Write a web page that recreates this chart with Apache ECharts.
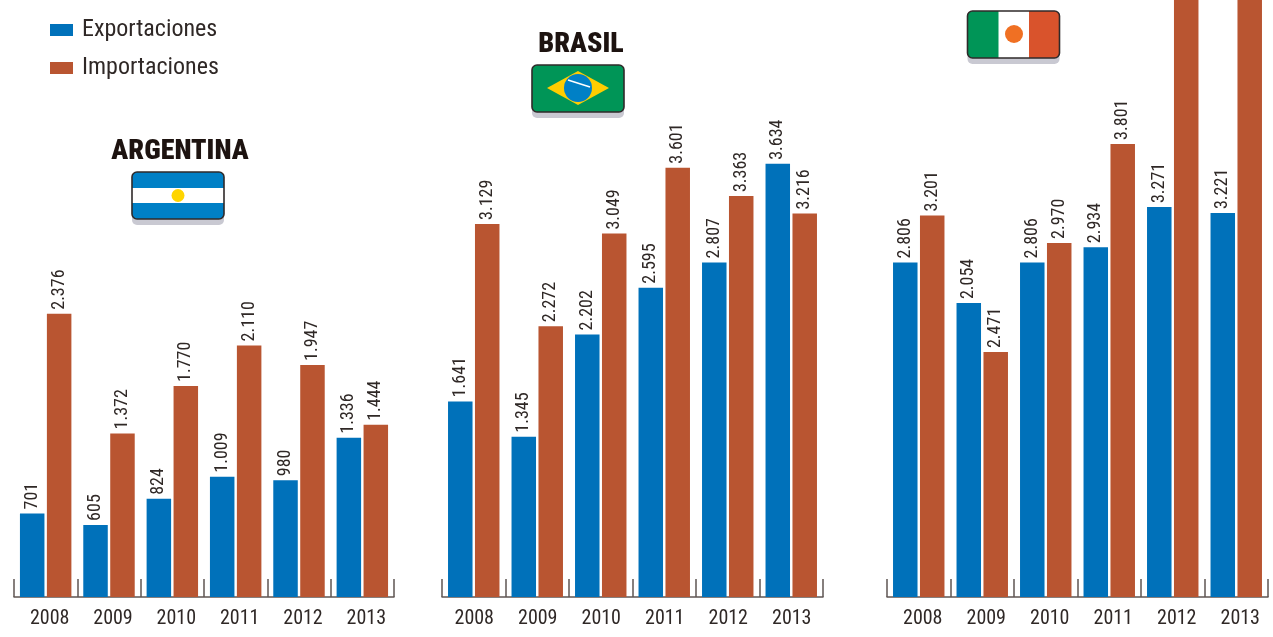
<!DOCTYPE html>
<html lang="es">
<head>
<meta charset="utf-8">
<title>Exportaciones e importaciones</title>
<script src="https://cdn.jsdelivr.net/npm/echarts@6/dist/echarts.min.js"></script>
<style>
  html, body { margin: 0; padding: 0; background: #fff; }
  #chart { width: 1273px; height: 637px; }
</style>
</head>
<body>
<div id="chart"></div>
<script>
const years = ['2008', '2009', '2010', '2011', '2012', '2013'];

const argentinaExp = [701, 605, 824, 1009, 980, 1336];
const argentinaImp = [2376, 1372, 1770, 2110, 1947, 1444];
const brasilExp = [1641, 1345, 2202, 2595, 2807, 3634];
const brasilImp = [3129, 2272, 3049, 3601, 3363, 3216];
// 2009: en el original la altura de las barras no coincide con su rotulo, se dibuja tal cual
const mexicoExp = [2806, 2466, 2806, 2934, 3271, 3221];
const mexicoExpLabels = [2806, 2054, 2806, 2934, 3271, 3221];
// las dos ultimas barras salen por arriba del recorte, valor estimado
const mexicoImp = [3201, 2055, 2970, 3801, 5300, 5450];
const mexicoImpLabels = [3201, 2471, 2970, 3801, null, null];

const yMax = 5008;
const BLUE = '#0071ba';
const RED = '#b95531';
const FONT = '"Roboto Condensed", sans-serif';
const INK = '#2f2826';

const panels = [
  { left: 14, width: 380, labelPad: 8, exp: argentinaExp, imp: argentinaImp, expLabels: argentinaExp, impLabels: argentinaImp },
  { left: 442, width: 381, labelPad: 1, exp: brasilExp, imp: brasilImp, expLabels: brasilExp, impLabels: brasilImp },
  { left: 887, width: 381, labelPad: 8, exp: mexicoExp, imp: mexicoImp, expLabels: mexicoExpLabels, impLabels: mexicoImpLabels },
];

function fmt(v) {
  if (v == null) return '';
  const s = String(v);
  return s.length > 3 ? s.slice(0, -3) + '.' + s.slice(-3) : s;
}

function barSeries(name, color, data, labels, i) {
  return {
    name,
    type: 'bar',
    xAxisIndex: i,
    yAxisIndex: i,
    data,
    barWidth: 24.5,
    barGap: '10%',
    itemStyle: { color },
    label: {
      show: true,
      position: 'top',
      rotate: 90,
      align: 'left',
      verticalAlign: 'middle',
      distance: 4,
      fontFamily: FONT,
      fontWeight: 400,
      fontSize: 18,
      color: INK,
      formatter: (p) => fmt(labels[p.dataIndex]),
    },
  };
}

function stripe(x, y, width, height, fill, r) {
  return { type: 'rect', shape: { x, y, width, height, r: r || 0 }, style: { fill } };
}

function frame(x, y) {
  return { type: 'rect', shape: { x, y, width: 92, height: 47, r: 5 }, style: { fill: 'none', stroke: '#2f2a2a', lineWidth: 1.6 } };
}

function shadow(x, y) {
  return stripe(x, y + 6, 92, 47, '#c9c9d2', 5);
}

const flags = [
  // Argentina
  shadow(132, 172),
  stripe(132, 172, 92, 47, '#0080c6', 5),
  stripe(132, 188, 92, 15, '#ffffff'),
  { type: 'circle', shape: { cx: 178, cy: 195.5, r: 6.5 }, style: { fill: '#ffd500' } },
  frame(132, 172),
  // Brasil
  shadow(532, 65),
  stripe(532, 65, 92, 47, '#009557', 5),
  { type: 'polygon', shape: { points: [[547, 88], [578, 71], [609, 88], [578, 105]] }, style: { fill: '#ffcd00' } },
  { type: 'circle', shape: { cx: 578, cy: 88, r: 14 }, style: { fill: '#0080c6' } },
  { type: 'line', shape: { x1: 568, y1: 80, x2: 590, y2: 87 }, style: { stroke: '#ffffff', lineWidth: 1.5 } },
  frame(532, 65),
  // Mexico
  shadow(967.5, 11),
  stripe(967.5, 11, 92, 47, '#ffffff', 5),
  { type: 'rect', shape: { x: 967.5, y: 11, width: 31, height: 47, r: [5, 0, 0, 5] }, style: { fill: '#009557' } },
  { type: 'rect', shape: { x: 1029, y: 11, width: 30.5, height: 47, r: [0, 5, 5, 0] }, style: { fill: '#d9532c' } },
  { type: 'circle', shape: { cx: 1014, cy: 34, r: 9 }, style: { fill: '#f07023' } },
  frame(967.5, 11),
];

const chart = echarts.init(document.getElementById('chart'));
chart.setOption({
  animation: false,
  backgroundColor: '#ffffff',
  title: [
    { text: 'ARGENTINA', left: 175, top: 133, textAlign: 'center', textStyle: { fontFamily: FONT, fontWeight: 900, fontSize: 28, color: '#1d1310' } },
    { text: 'BRASIL', left: 576, top: 26, textAlign: 'center', textStyle: { fontFamily: FONT, fontWeight: 900, fontSize: 28, color: '#1d1310' } },
  ],
  legend: {
    left: 50,
    top: 18,
    orient: 'vertical',
    itemWidth: 23,
    itemHeight: 12,
    itemGap: 14,
    padding: 0,
    selectedMode: false,
    data: [
      { name: 'Exportaciones', icon: 'rect' },
      { name: 'Importaciones', icon: 'rect' },
    ],
    textStyle: { fontFamily: FONT, fontWeight: 400, fontSize: 24, color: INK, padding: [0, 0, 0, 4] },
  },
  grid: panels.map((p) => ({ left: p.left, width: p.width, top: 0, height: 597, containLabel: false })),
  xAxis: panels.map((p, i) => ({
    type: 'category',
    gridIndex: i,
    data: years,
    axisLine: { lineStyle: { color: '#5f5653', width: 1.5 } },
    axisTick: { show: true, inside: true, length: 18, lineStyle: { color: '#5f5653', width: 1.5 } },
    axisLabel: { fontFamily: FONT, fontWeight: 400, fontSize: 20, color: INK, margin: 12, padding: [0, 0, 0, p.labelPad], interval: 0 },
  })),
  yAxis: panels.map((p, i) => ({ type: 'value', gridIndex: i, min: 0, max: yMax, show: false })),
  series: panels.flatMap((p, i) => [
    barSeries('Exportaciones', BLUE, p.exp, p.expLabels, i),
    barSeries('Importaciones', RED, p.imp, p.impLabels, i),
  ]),
  graphic: flags,
});
</script>
</body>
</html>
